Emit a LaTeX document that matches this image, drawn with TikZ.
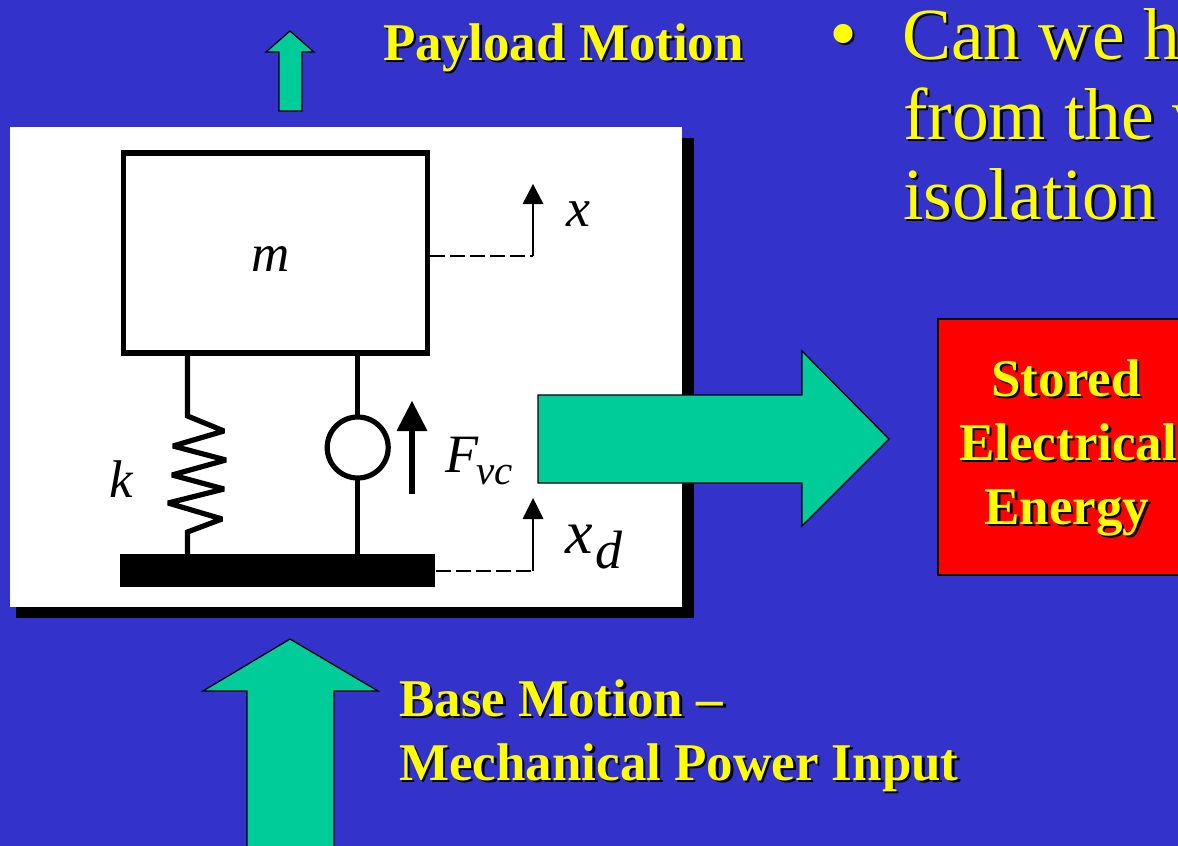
\documentclass[tikz,border=0pt]{standalone}
\usepackage{fontspec}
\setmainfont{Liberation Serif}
\definecolor{bg}{RGB}{51,51,204}
\definecolor{grn}{RGB}{0,204,153}
\definecolor{yel}{RGB}{255,255,0}
\newcommand{\shtext}[5]{%
\node[anchor=#1,text=black,inner sep=0,font=#4] (#2s) at ([shift={(#5,#5)}]#2) {#3};
\node[anchor=#1,text=yel,inner sep=0,font=#4] (#2t) at (#2) {#3};}
\begin{document}
\begin{tikzpicture}[x=1pt,y=-1pt,
 lbl/.style={inner sep=0,text=black},
 blk/.style={draw=black,line width=5.2pt},
 thin/.style={draw=black,line width=1.7pt},
 arr/.style={draw=black,line width=1.3pt,fill=grn,line join=miter}]
\useasboundingbox (0,0) rectangle (1178,846);
\fill[bg] (0,0) rectangle (1178,846);
% payload arrow
\draw[arr] (279,111) -- (279,52) -- (266,52) -- (290,31) -- (314,52) -- (302,52) -- (302,111) -- cycle;
% white panel
\fill[black] (16,138) rectangle (694,618);
\fill[white] (10,127) rectangle (682,607);
% mass
\node[blk,draw,minimum width=304,minimum height=200,inner sep=0,outer sep=0,anchor=north west] (mass) at (123.3,153) {};
\node[lbl,font=\itshape\fontsize{53}{53}\selectfont,anchor=base] (mlabel) at (270.5,271) {m};
% base
\node[fill=black,minimum width=315,minimum height=33,inner sep=0,outer sep=0,anchor=north west] (base) at (120,554) {};
% spring
\coordinate (s0) at (187.5,353);
\coordinate (s9) at (187.5,556);
\draw[blk,line join=miter,miter limit=2] (s0) -- (187.5,416) -- (224,431) -- (173,446) -- (226,460) -- (172,475) -- (224,489) -- (168,503) -- (222,519) -- (187.5,532) -- (s9);
% voice coil
\node[blk,draw,circle,fill=white,minimum size=61,inner sep=0,outer sep=0] (vc) at (357.7,447.5) {};
\coordinate (d0) at (357.7,353);
\coordinate (d9) at (357.7,556);
\draw[blk] (d0) -- (vc);
\draw[blk] (vc) -- (d9);
% force arrow
\coordinate (f0) at (412,494);
\coordinate (f1) at (412,428);
\draw[draw=black,line width=6.5pt] (f0) -- (f1);
\fill[black] (396.5,431) -- (412,401) -- (427.5,431) -- cycle;
% x indicators
\coordinate (xc) at (533,256);
\coordinate (xt) at (533,204);
\coordinate (xa) at (430,256);
\draw[thin,dash pattern=on 15pt off 5pt] (xa) -- (xc);
\draw[thin] (xc) -- (xt);
\fill[black] (522.5,204) -- (533,184) -- (543.5,204) -- cycle;
\coordinate (dc) at (533,571);
\coordinate (dt) at (533,519);
\coordinate (da) at (436,571);
\draw[thin,dash pattern=on 15pt off 5pt] (da) -- (dc);
\draw[thin] (dc) -- (dt);
\fill[black] (522.5,519) -- (533,498) -- (543.5,519) -- cycle;
\node[lbl,font=\itshape\fontsize{54}{54}\selectfont,anchor=base west] (xlabel) at (566,226) {x};
\node[lbl,font=\itshape\fontsize{53}{53}\selectfont,anchor=base west] (klabel) at (109,497) {k};
\node[lbl,anchor=base west] (fvc) at (445,472) {\fontsize{54}{54}\selectfont\itshape F\kern-2pt\raisebox{-12pt}{\fontsize{41}{41}\selectfont vc}};
\node[lbl,anchor=base west] (xd) at (565,553) {\fontsize{62}{62}\selectfont\itshape x\kern3pt\raisebox{-15pt}{\fontsize{54}{54}\selectfont d}};
% big arrows
\draw[arr] (538,395) -- (802,395) -- (802,351) -- (889,439) -- (802,526) -- (802,483) -- (538,483) -- cycle;
\draw[arr] (247,850) -- (247,691) -- (203,691) -- (290,639) -- (378,691) -- (334,691) -- (334,850);
% stored box
\node[draw=black,line width=1.3pt,fill=red,minimum width=260,minimum height=256,inner sep=0,outer sep=0,anchor=north west] (store) at (938,319) {};
% texts
\coordinate (a) at (383,60);
\shtext{base west}{a}{\textbf{Payload Motion}}{\fontsize{53}{53}\selectfont}{2.5}
\coordinate (b) at (1066,396);
\shtext{base}{b}{\textbf{Stored}}{\fontsize{53}{53}\selectfont}{2.5}
\coordinate (c) at (959,460);
\shtext{base west}{c}{\textbf{Electrical}}{\fontsize{53}{53}\selectfont}{2.5}
\coordinate (d) at (1067,524);
\shtext{base}{d}{\textbf{Energy}}{\fontsize{53}{53}\selectfont}{2.5}
\coordinate (e) at (399,716);
\shtext{base west}{e}{\textbf{Base Motion –}}{\fontsize{53}{53}\selectfont}{2.5}
\coordinate (f) at (399,780);
\shtext{base west}{f}{\textbf{Mechanical Power Input}}{\fontsize{53}{53}\selectfont}{2.5}
\coordinate (g) at (843,60);
\shtext{base}{g}{•}{\fontsize{80}{80}\selectfont}{2.5}
\coordinate (h) at (902,59);
\shtext{base west}{h}{Can we h}{\fontsize{73.5}{73.5}\selectfont}{2.5}
\coordinate (i) at (903,139);
\shtext{base west}{i}{from the v}{\fontsize{73.5}{73.5}\selectfont}{2.5}
\coordinate (j) at (903,219);
\shtext{base west}{j}{isolation}{\fontsize{73.5}{73.5}\selectfont}{2.5}
\end{tikzpicture}
\end{document}
